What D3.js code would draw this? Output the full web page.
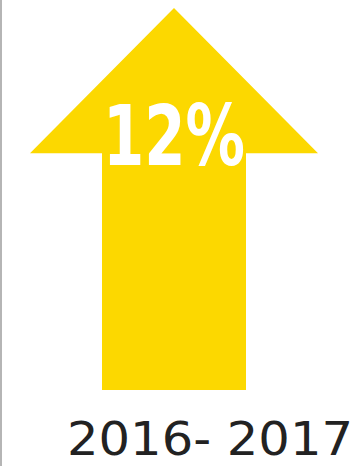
<!DOCTYPE html>
<html>
<head>
<meta charset="utf-8">
<script src="https://cdn.jsdelivr.net/npm/d3@7"></script>
<style>
  html, body { margin: 0; padding: 0; background: #fff; }
  svg { display: block; }
</style>
</head>
<body>
<svg id="chart" width="364" height="466"></svg>
<script>
// chart data
const changeValues = [12];
const periodLabels = ["2016- 2017"];
const arrowColor = "#fcd800";

let svg = d3.select('#chart');
let width = +svg.attr('width');
let height = +svg.attr('height');

// left border line
svg.append('line')
    .attr('x1', 1).attr('x2', 1)
    .attr('y1', 0).attr('y2', height)
    .attr('stroke', '#b5b5b5')
    .attr('stroke-width', 2);

// scales in arrow-unit space: x -1..1 across head, y 0 (base) .. 1 (tip)
let xScale = d3.scaleLinear().domain([-1, 1]).range([30, 318]);
let yScale = d3.scaleLinear().domain([0, 1]).range([390, 8]);

let headBase = 0.62;   // where head meets shaft
let shaftHalf = 0.5;   // shaft half-width relative to head half-width

let arrowPts = [
    [0, 1],
    [1, headBase],
    [shaftHalf, headBase],
    [shaftHalf, 0],
    [-shaftHalf, 0],
    [-shaftHalf, headBase],
    [-1, headBase]
];

let line = d3.line()
    .x(d => xScale(d[0]))
    .y(d => yScale(d[1]))
    .curve(d3.curveLinearClosed);

svg.selectAll('path.arrow')
    .data(changeValues)
    .enter()
    .append('path')
    .attr('class', 'arrow')
    .attr('d', line(arrowPts))
    .attr('fill', arrowColor);

svg.selectAll('text.value')
    .data(changeValues)
    .enter()
    .append('text')
    .attr('class', 'value')
    .attr('x', xScale(0))
    .attr('y', yScale(headBase) + 12)
    .attr('text-anchor', 'middle')
    .attr('font-family', '"DejaVu Sans Condensed", "DejaVu Sans", sans-serif')
    .attr('font-stretch', 'condensed')
    .attr('font-weight', 'bold')
    .attr('font-size', 84)
    .attr('textLength', 142)
    .attr('lengthAdjust', 'spacingAndGlyphs')
    .attr('fill', '#ffffff')
    .text(d => d + '%');

svg.selectAll('text.period')
    .data(periodLabels)
    .enter()
    .append('text')
    .attr('class', 'period')
    .attr('x', 210)
    .attr('y', 455)
    .attr('text-anchor', 'middle')
    .attr('font-family', '"DejaVu Sans", Verdana, sans-serif')
    .attr('font-size', 46)
    .attr('textLength', 286)
    .attr('lengthAdjust', 'spacingAndGlyphs')
    .attr('fill', '#222')
    .text(d => d);
</script>
</body>
</html>
